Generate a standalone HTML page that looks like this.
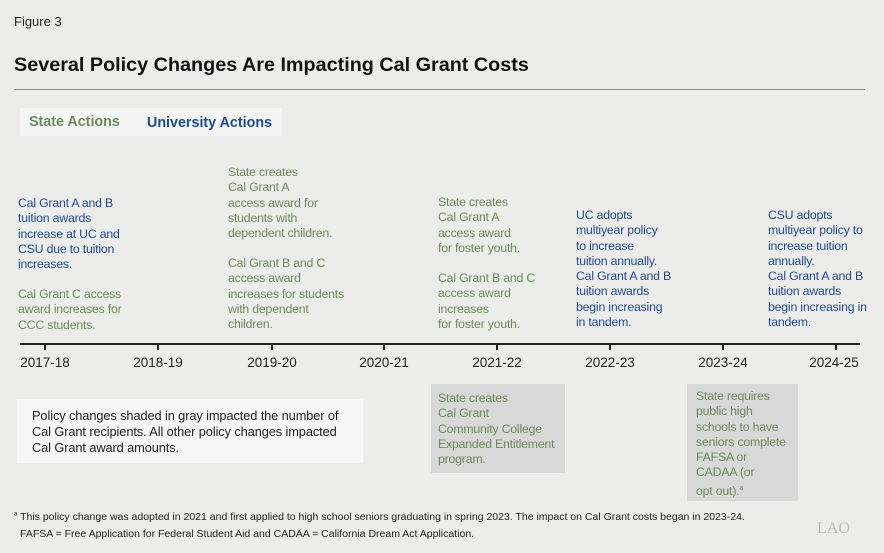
<!DOCTYPE html>
<html><head><meta charset="utf-8"><style>
body{margin:0;width:884px;height:553px;background:#ececeb;font-family:"Liberation Sans",Arial,sans-serif;position:relative;overflow:hidden;color:#222}
.a{position:absolute;white-space:nowrap}
.t{font-size:12.3px;line-height:15.25px;letter-spacing:-0.2px}
.g{color:#6e8a5c}.b{color:#1f4b8e}
.yr{position:absolute;top:355px;font-size:13.5px;width:80px;text-align:center;margin-left:-40px;color:#222}
.tk{position:absolute;top:344px;width:2px;height:6px;background:#222;margin-left:-1px}
</style></head><body>
<div class="a" style="left:14px;top:14px;font-size:13px">Figure 3</div>
<div class="a" style="left:14px;top:54px;font-size:19.8px;font-weight:bold;color:#111">Several Policy Changes Are Impacting Cal Grant Costs</div>
<div class="a" style="left:14px;top:89px;width:851px;height:1px;background:#8a8a8a"></div>
<div class="a" style="left:20px;top:108px;width:262px;height:28px;background:#f5f5f5"></div>
<div class="a g" style="left:29px;top:114px;font-size:14.3px;font-weight:bold">State Actions</div>
<div class="a b" style="left:147px;top:115px;font-size:14.3px;font-weight:bold">University Actions</div>

<div class="a t b" style="left:18px;top:196px">Cal Grant A and B<br>tuition awards<br>increase at UC and<br>CSU due to tuition<br>increases.</div>
<div class="a t g" style="left:18px;top:287px">Cal Grant C access<br>award increases for<br>CCC students.</div>
<div class="a t g" style="left:228px;top:165px">State creates<br>Cal Grant A<br>access award for<br>students with<br>dependent children.</div>
<div class="a t g" style="left:228px;top:256px">Cal Grant B and C<br>access award<br>increases for students<br>with dependent<br>children.</div>
<div class="a t g" style="left:438px;top:195px">State creates<br>Cal Grant A<br>access award<br>for foster youth.</div>
<div class="a t g" style="left:438px;top:271px">Cal Grant B and C<br>access award<br>increases<br>for foster youth.</div>
<div class="a t b" style="left:576px;top:208px">UC adopts<br>multiyear policy<br>to increase<br>tuition annually.<br>Cal Grant A and B<br>tuition awards<br>begin increasing<br>in tandem.</div>
<div class="a t b" style="left:768px;top:208px">CSU adopts<br>multiyear policy to<br>increase tuition<br>annually.<br>Cal Grant A and B<br>tuition awards<br>begin increasing in<br>tandem.</div>

<div class="a" style="left:20px;top:343px;width:840px;height:2px;background:#222"></div>
<div class="tk" style="left:45px"></div><div class="tk" style="left:158px"></div><div class="tk" style="left:272px"></div><div class="tk" style="left:384px"></div><div class="tk" style="left:497px"></div><div class="tk" style="left:610px"></div><div class="tk" style="left:723px"></div><div class="tk" style="left:836px"></div>
<div class="yr" style="left:45px">2017-18</div><div class="yr" style="left:158px">2018-19</div><div class="yr" style="left:272px">2019-20</div><div class="yr" style="left:384px">2020-21</div><div class="yr" style="left:497px">2021-22</div><div class="yr" style="left:610px">2022-23</div><div class="yr" style="left:723px">2023-24</div><div class="yr" style="left:834px">2024-25</div>

<div class="a" style="left:17px;top:399px;width:346px;height:64px;background:#f6f6f6"></div>
<div class="a" style="left:32px;top:408px;font-size:12.8px;line-height:16px;color:#222;letter-spacing:-0.1px">Policy changes shaded in gray impacted the number of<br>Cal Grant recipients. All other policy changes impacted<br>Cal Grant award amounts.</div>
<div class="a" style="left:431px;top:384px;width:134px;height:89px;background:#d7d8d7"></div>
<div class="a t g" style="left:438px;top:391px">State creates<br>Cal Grant<br>Community College<br>Expanded Entitlement<br>program.</div>
<div class="a" style="left:687px;top:384px;width:111px;height:117px;background:#d7d8d7"></div>
<div class="a t g" style="left:696px;top:389px">State requires<br>public high<br>schools to have<br>seniors complete<br>FAFSA or<br>CADAA (or<br>opt out).<sup style="font-size:7px">a</sup></div>

<div class="a" style="left:14px;top:511px;font-size:10.5px;color:#222"><sup style="font-size:6px">a</sup> This policy change was adopted in 2021 and first applied to high school seniors graduating in spring 2023. The impact on Cal Grant costs began in 2023-24.</div>
<div class="a" style="left:20px;top:528px;font-size:10.5px;color:#222">FAFSA = Free Application for Federal Student Aid and CADAA = California Dream Act Application.</div>
<div class="a" style="left:817px;top:520px;font-size:16px;color:#bbb;font-family:'Liberation Serif',serif">LAO</div>
</body></html>
